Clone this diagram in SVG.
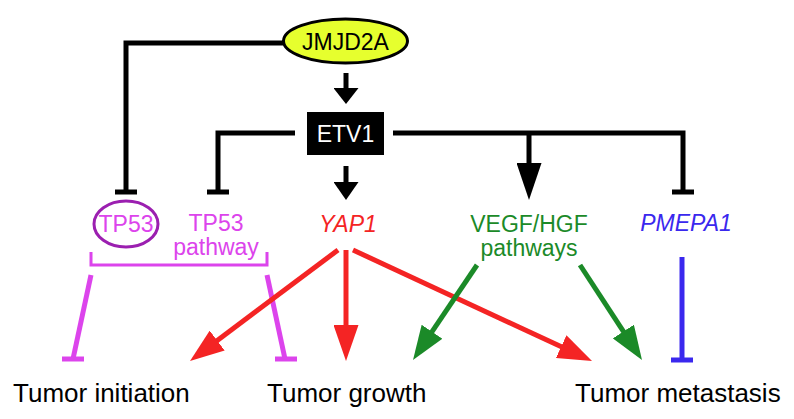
<svg xmlns="http://www.w3.org/2000/svg" width="794" height="419" viewBox="0 0 794 419">
<style>
text{font-family:"Liberation Sans",Arial,Helvetica,sans-serif;text-anchor:middle}
.lbl{font-size:23px}
.out{font-size:26px;fill:#000;text-anchor:start}
.k{stroke:#000;stroke-width:5;fill:none}
.r{stroke:#F42424;stroke-width:5;fill:none}
.g{stroke:#1B8A28;stroke-width:5;fill:none}
.m{stroke:#DC44EC;stroke-width:5;fill:none}
.b{stroke:#3A28EE;stroke-width:5;fill:none}
</style>
<defs>
<marker id="ak-s" markerUnits="userSpaceOnUse" markerWidth="16" markerHeight="25" refX="2" refY="12.5" orient="auto"><path d="M0,0 L16,12.5 L0,25 z" fill="#000"/></marker>
<marker id="ak-s2" markerUnits="userSpaceOnUse" markerWidth="18" markerHeight="25" refX="2" refY="12.5" orient="auto"><path d="M0,0 L18,12.5 L0,25 z" fill="#000"/></marker>
<marker id="ak-b" markerUnits="userSpaceOnUse" markerWidth="37" markerHeight="25" refX="2" refY="12.5" orient="auto"><path d="M0,0 L37,12.5 L0,25 z" fill="#000"/></marker>
<marker id="ar" markerUnits="userSpaceOnUse" markerWidth="34" markerHeight="25" refX="2" refY="12.5" orient="auto"><path d="M0,0 L34,12.5 L0,25 z" fill="#F42424"/></marker>
<marker id="ar-d" markerUnits="userSpaceOnUse" markerWidth="36" markerHeight="25" refX="2" refY="12.5" orient="auto"><path d="M0,0 L36,12.5 L0,25 z" fill="#F42424"/></marker>
<marker id="ag" markerUnits="userSpaceOnUse" markerWidth="34" markerHeight="25" refX="2" refY="12.5" orient="auto"><path d="M0,0 L34,12.5 L0,25 z" fill="#1B8A28"/></marker>
</defs>

<g id="connectors">
  <path class="k" d="M283,43 H126 V192"/>
  <path class="k" d="M115,192 H137"/>
  <path class="k" d="M346,73 V90" marker-end="url(#ak-s)"/>
  <path class="k" d="M295,133 H218 V192"/>
  <path class="k" d="M207,192 H229"/>
  <path class="k" d="M346,166 V184" marker-end="url(#ak-s2)"/>
  <path class="k" d="M393,133 H683 V192"/>
  <path class="k" d="M672,192 H694"/>
  <path class="k" d="M529,133 V165" marker-end="url(#ak-b)"/>
  <path class="m" style="stroke-width:3" d="M91,252 V265 H267 V252"/>
  <path class="m" d="M91,275 L73,359"/>
  <path class="m" d="M62,359 H84"/>
  <path class="m" d="M267,275 L285,359"/>
  <path class="m" d="M275,359 H297"/>
  <path class="r" d="M338,250 L215.6,341.8" marker-end="url(#ar)"/>
  <path class="r" d="M346,250 V327" marker-end="url(#ar-d)"/>
  <path class="r" d="M353,250 L563,347.5" marker-end="url(#ar)"/>
  <path class="g" d="M477,265 L430.9,333.4" marker-end="url(#ag)"/>
  <path class="g" d="M580,265 L624.5,333.2" marker-end="url(#ag)"/>
  <path class="b" d="M682,257 V360"/>
  <path class="b" d="M671,360 H693"/>
</g>

<g id="JMJD2A">
  <ellipse cx="345.5" cy="41" rx="62" ry="22" fill="#E6FF2E" stroke="#000" stroke-width="3"/>
  <text class="lbl" x="345.5" y="49.5" fill="#000">JMJD2A</text>
</g>
<g id="ETV1">
  <rect x="307" y="112" width="77" height="43" fill="#000"/>
  <text class="lbl" x="345.5" y="141.5" fill="#fff">ETV1</text>
</g>
<g id="TP53">
  <ellipse cx="126" cy="224" rx="32" ry="23" fill="none" stroke="#9B1FB0" stroke-width="3"/>
  <text class="lbl" x="126" y="232" fill="#DC44EC">TP53</text>
</g>
<g id="TP53pathway">
  <text class="lbl" x="216" y="231" fill="#DC44EC">TP53</text>
  <text class="lbl" x="216" y="255" fill="#DC44EC">pathway</text>
</g>
<g id="YAP1">
  <text class="lbl" x="348" y="232" fill="#F42424" font-style="italic">YAP1</text>
</g>
<g id="VEGFHGF">
  <text class="lbl" x="529" y="232" fill="#1B8A28">VEGF/HGF</text>
  <text class="lbl" x="529" y="256" fill="#1B8A28">pathways</text>
</g>
<g id="PMEPA1">
  <text class="lbl" x="686" y="231" fill="#3A28EE" font-style="italic">PMEPA1</text>
</g>
<g id="initiation"><text class="out" x="13" y="402">Tumor initiation</text></g>
<g id="growth"><text class="out" x="267" y="402">Tumor growth</text></g>
<g id="metastasis"><text class="out" x="575" y="402">Tumor metastasis</text></g>
</svg>
